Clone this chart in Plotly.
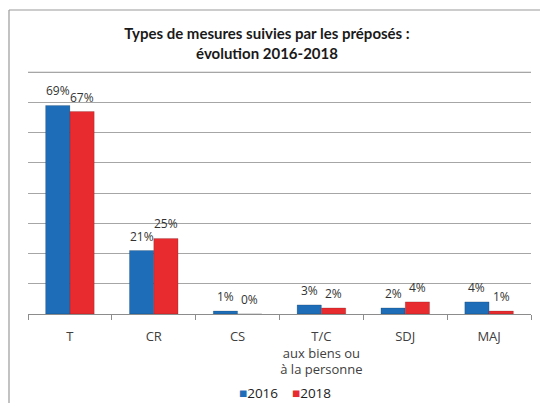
import plotly.graph_objects as go

# Measure types and their shares (%) for each year
categories = ["T", "CR", "CS", "T/C<br>aux biens ou<br>à la personne", "SDJ", "MAJ"]
values_2016 = [69, 21, 1, 3, 2, 4]
values_2018 = [67, 25, 0, 2, 4, 1]
series_names = ["2016", "2018"]
series_colors = ["#1d6db8", "#e82b2f"]
y_max = 80

W, H = 540, 403
L, R, T, B = 28, 9, 71, 89
PW, PH = W - L - R, H - T - B
FONT = "'Open Sans', Lato, sans-serif"
TITLE_FONT = "Lato, 'Open Sans', sans-serif"
TXT = "#404040"
GRID = "#a6a6a6"


def px_x(x):
    return (x - L) / PW


def px_y(y):
    return (H - B - y) / PH


fig = go.Figure()
for name, vals, col in zip(series_names, [values_2016, values_2018], series_colors):
    fig.add_bar(
        name=name,
        x=categories,
        y=vals,
        marker=dict(color=col, line=dict(color="rgba(0,0,0,0.25)", width=0.6)),
        showlegend=False,
    )

# Percentage labels above each bar
bar_w = PW / len(categories) * (1 - 0.42) / 2
for k, vals in enumerate([values_2016, values_2018]):
    shift = -bar_w / 2 if k == 0 else bar_w / 2
    for c, v in zip(categories, vals):
        fig.add_annotation(
            x=c, y=v, text=f"{v}%", showarrow=False,
            xshift=shift, yshift=4, yanchor="bottom",
            font=dict(family=FONT, size=12, color="#333"),
        )

# Compact legend row under the axis labels
legend_x = [237, 290]
for name, col, lx in zip(series_names, series_colors, legend_x):
    fig.add_annotation(
        xref="paper", yref="paper", x=px_x(lx), y=px_y(393),
        xanchor="left", yanchor="middle", showarrow=False,
        text=f"<span style='color:{col}'>■</span>{name}",
        font=dict(family=FONT, size=13.5, color="#222"),
    )

# Gridline at the top of the value scale
fig.add_shape(type="line", xref="x domain", yref="y", x0=0, x1=1, y0=y_max, y1=y_max,
              line=dict(color=GRID, width=1), layer="above")

# Chart frame (left and top edges)
fig.add_shape(type="line", xref="paper", yref="paper",
              x0=px_x(9), x1=px_x(9), y0=px_y(10), y1=px_y(403),
              line=dict(color="#9a9a9a", width=1.2))
fig.add_shape(type="line", xref="paper", yref="paper",
              x0=px_x(9), x1=px_x(540), y0=px_y(10), y1=px_y(10),
              line=dict(color="#9a9a9a", width=1.2))

fig.update_layout(
    width=W, height=H,
    margin=dict(l=L, r=R, t=T, b=B, autoexpand=False),
    paper_bgcolor="white", plot_bgcolor="white",
    barmode="group", bargap=0.42, bargroupgap=0,
    title=dict(
        text="<b>Types de mesures suivies par les préposés :<br>évolution 2016-2018</b>",
        x=267 / W, xanchor="center", xref="container",
        y=1 - 39 / H, yanchor="middle", yref="container",
        font=dict(family=TITLE_FONT, size=15, color="#1a1a1a"),
    ),
    font=dict(family=FONT, size=12, color=TXT),
    showlegend=False,
    xaxis=dict(
        showline=True, linecolor="#8c8c8c", linewidth=1,
        ticks="outside", tickson="boundaries", ticklen=5, tickcolor="#8c8c8c",
        tickfont=dict(family=FONT, size=13, color=TXT), tickangle=0,
        ticklabelstandoff=10,
        showgrid=False, fixedrange=True, automargin=False,
    ),
    yaxis=dict(
        range=[0, y_max + 0.4], dtick=10, showticklabels=False,
        showgrid=True, gridcolor=GRID, gridwidth=1,
        zeroline=False, showline=False, fixedrange=True, automargin=False,
    ),
)

fig.write_html("out.html")
